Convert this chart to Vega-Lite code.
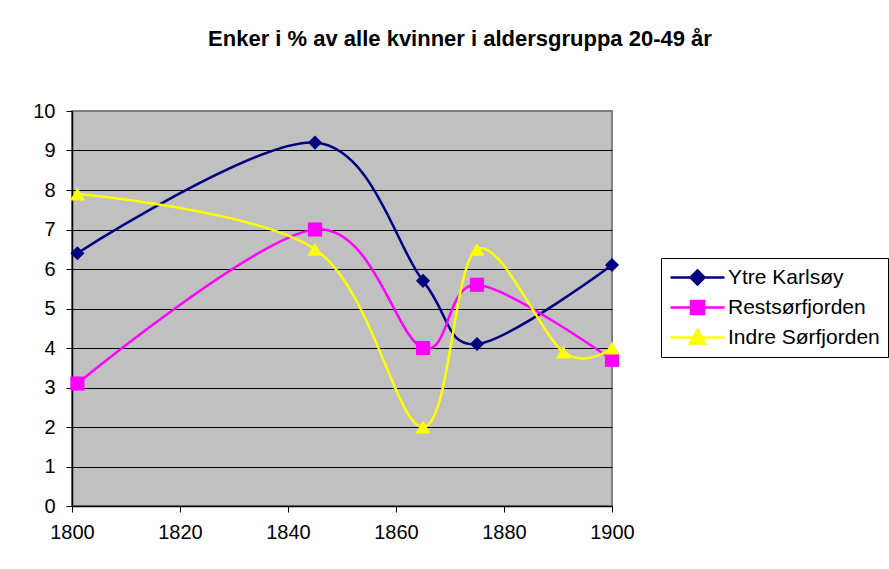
{
  "$schema": "https://vega.github.io/schema/vega-lite/v6.json",
  "width": 540,
  "height": 395,
  "autosize": {"type": "none"},
  "padding": {"left": 72, "top": 111, "right": 277, "bottom": 63},
  "background": "white",
  "config": {
    "font": "Liberation Sans",
    "view": {"fill": "#C0C0C0", "stroke": "#808080", "strokeWidth": 2}
  },
  "title": {
    "text": "Enker i % av alle kvinner i aldersgruppa 20-49 år",
    "fontSize": 22,
    "fontWeight": "bold",
    "font": "Liberation Sans",
    "color": "black",
    "anchor": "middle",
    "dx": 118,
    "offset": 50
  },
  "data": {
    "values": [
      {"year": 1801, "value": 6.4, "series": "Ytre Karlsøy"},
      {"year": 1845, "value": 9.2, "series": "Ytre Karlsøy"},
      {"year": 1865, "value": 5.7, "series": "Ytre Karlsøy"},
      {"year": 1875, "value": 4.1, "series": "Ytre Karlsøy"},
      {"year": 1900, "value": 6.1, "series": "Ytre Karlsøy"},
      {"year": 1801, "value": 3.1, "series": "Restsørfjorden"},
      {"year": 1845, "value": 7.0, "series": "Restsørfjorden"},
      {"year": 1865, "value": 4.0, "series": "Restsørfjorden"},
      {"year": 1875, "value": 5.6, "series": "Restsørfjorden"},
      {"year": 1900, "value": 3.7, "series": "Restsørfjorden"},
      {"year": 1801, "value": 7.9, "series": "Indre Sørfjorden"},
      {"year": 1845, "value": 6.5, "series": "Indre Sørfjorden"},
      {"year": 1865, "value": 2.0, "series": "Indre Sørfjorden"},
      {"year": 1875, "value": 6.5, "series": "Indre Sørfjorden"},
      {"year": 1891, "value": 3.9, "series": "Indre Sørfjorden"},
      {"year": 1900, "value": 4.0, "series": "Indre Sørfjorden"}
    ]
  },
  "encoding": {
    "x": {
      "field": "year",
      "type": "quantitative",
      "scale": {"domain": [1800, 1900], "nice": false, "zero": false},
      "axis": {
        "values": [1800, 1820, 1840, 1860, 1880, 1900],
        "format": "d",
        "title": null,
        "grid": false,
        "domainColor": "black",
        "domainWidth": 1.5,
        "tickColor": "black",
        "tickSize": 6,
        "labelFontSize": 20,
        "labelColor": "black",
        "labelPadding": 10,
        "labelFlush": false
      }
    },
    "y": {
      "field": "value",
      "type": "quantitative",
      "scale": {"domain": [0, 10], "nice": false},
      "axis": {
        "values": [0, 1, 2, 3, 4, 5, 6, 7, 8, 9, 10],
        "title": null,
        "grid": true,
        "gridColor": {"condition": {"test": "datum.value === 10", "value": "#808080"}, "value": "black"},
        "gridOpacity": 1,
        "domainColor": "black",
        "domainWidth": 1.5,
        "tickColor": "black",
        "tickSize": 6,
        "labelFontSize": 20,
        "labelColor": "black",
        "labelPadding": 11
      }
    },
    "color": {
      "field": "series",
      "type": "nominal",
      "scale": {
        "domain": ["Ytre Karlsøy", "Restsørfjorden", "Indre Sørfjorden"],
        "range": ["#000080", "#FF00FF", "#FFFF00"]
      },
      "legend": {
        "orient": "none",
        "legendX": 589,
        "legendY": 147,
        "title": null,
        "strokeColor": "black",
        "fillColor": "white",
        "padding": 8,
        "labelFontSize": 21,
        "labelColor": "black",
        "labelFont": "Liberation Sans",
        "symbolSize": 400,
        "symbolStrokeWidth": 2.5,
        "rowPadding": 6,
        "labelOffset": 36,
        "encode": {
          "symbols": {
            "update": {
              "shape": {"signal": "datum.value === 'Ytre Karlsøy' ? 'M-1,0H4.4M1.7,-0.7L2.4,0L1.7,0.7L1,0Z' : datum.value === 'Restsørfjorden' ? 'M-1,0H4.4M1.05,-0.65H2.35V0.65H1.05Z' : 'M-1,0H4.4M1.7,-0.75L2.45,0.6L0.95,0.6Z'"},
              "fill": {"signal": "datum.value === 'Ytre Karlsøy' ? '#000080' : datum.value === 'Restsørfjorden' ? '#FF00FF' : '#FFFF00'"},
              "stroke": {"signal": "datum.value === 'Ytre Karlsøy' ? '#000080' : datum.value === 'Restsørfjorden' ? '#FF00FF' : '#FFFF00'"},
              "fillOpacity": {"value": 1},
              "opacity": {"value": 1}
            }
          }
        }
      }
    }
  },
  "layer": [
    {"mark": {"type": "line", "interpolate": "cardinal", "strokeWidth": 2.5}},
    {
      "transform": [{"filter": "datum.series === 'Ytre Karlsøy'"}],
      "mark": {"type": "point", "filled": true, "opacity": 1, "size": 200, "shape": "diamond"}
    },
    {
      "transform": [{"filter": "datum.series === 'Restsørfjorden'"}],
      "mark": {"type": "point", "filled": true, "opacity": 1, "size": 200, "shape": "square"}
    },
    {
      "transform": [{"filter": "datum.series === 'Indre Sørfjorden'"}],
      "mark": {"type": "point", "filled": true, "opacity": 1, "size": 230, "shape": "triangle-up"}
    }
  ]
}
